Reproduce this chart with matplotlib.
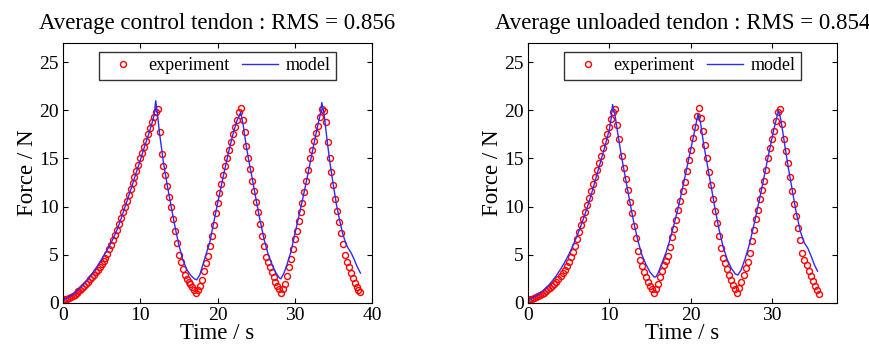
import numpy as np
import matplotlib.pyplot as plt

plt.rcParams['font.family'] = ['Liberation Serif', 'DejaVu Serif']
plt.rcParams['mathtext.fontset'] = 'stix'

# ---- donnees ----
titres = ['Average control tendon : RMS = 0.856',
          'Average unloaded tendon : RMS = 0.854']

pas_exp = 0.25  # echantillonnage des points experimentaux (s)

# experience, tendon controle (0 -> 38.5 s)
exp_ctrl = [
    0.30, 0.36, 0.43, 0.51, 0.60, 0.73, 0.87, 1.03, 1.20, 1.39,
    1.59, 1.79, 2.00, 2.22, 2.45, 2.67, 2.90, 3.17, 3.44, 3.72,
    4.00, 4.35, 4.70, 5.07, 5.55, 6.05, 6.55, 7.05, 7.60, 8.20,
    8.80, 9.40, 10.00, 10.60, 11.20, 11.85, 12.50, 13.10, 13.70, 14.35,
    15.00, 15.60, 16.20, 16.85, 17.50, 18.15, 18.80, 19.30, 19.80, 20.10,
    17.80, 15.50, 14.20, 13.30, 12.10, 11.00, 10.00, 8.70, 7.50, 6.20,
    5.00, 4.20, 3.50, 2.90, 2.50, 2.20, 1.95, 1.65, 1.30, 1.00,
    1.30, 1.80, 2.40, 3.30, 4.10, 4.90, 5.90, 7.00, 8.10, 9.30,
    10.40, 11.40, 12.30, 13.30, 14.20, 15.10, 15.90, 16.70, 17.50, 18.30,
    19.00, 19.80, 20.20,
    19.00, 17.70, 16.30, 15.00, 13.90, 12.70, 11.60, 10.50, 9.40, 8.20,
    7.00, 5.90, 4.80, 4.20, 3.70, 3.20, 2.70, 2.20, 1.80, 1.40, 1.00,
    1.40, 2.00, 2.80, 3.70, 4.60, 5.60, 6.60, 7.50, 8.50, 9.40,
    10.40, 11.50, 12.70, 13.80, 15.00, 15.90, 16.80, 17.60, 18.40, 19.30,
    20.10, 19.90,
    18.80, 16.70, 15.00, 13.60, 12.20, 10.80, 9.50, 8.40, 7.30, 6.10,
    5.00, 4.30, 3.70, 3.10, 2.60, 2.10, 1.70, 1.30, 1.10,
]

# modele, tendon controle
mod_ctrl_t = [0, 0.5, 1, 1.5, 2, 2.5, 3, 3.5, 4, 4.5, 5, 5.5, 6, 6.5, 7, 7.5,
              8, 8.5, 9, 9.5, 10, 10.5, 11, 11.5, 11.8, 12.0, 12.2, 12.5, 13,
              13.5, 14, 14.5, 15, 15.5, 16, 16.5, 17, 17.3, 17.7, 18, 18.5, 19,
              19.5, 20, 20.5, 21, 21.5, 22, 22.5, 22.8, 23.0, 23.3, 23.7, 24,
              24.5, 25, 25.5, 26, 26.5, 27, 27.5, 28, 28.2, 28.6, 29, 29.5, 30,
              30.5, 31, 31.5, 32, 32.5, 33, 33.3, 33.5, 33.8, 34.2, 34.6, 35,
              35.4, 35.8, 36.2, 36.6, 36.9, 37.3, 37.7, 38, 38.5]
mod_ctrl_f = [0.3, 0.5, 0.75, 1.05, 1.4, 1.8, 2.25, 2.75, 3.3, 3.9, 4.55, 5.2,
              5.9, 6.7, 7.6, 8.7, 9.9, 11.1, 12.3, 13.6, 14.8, 16.1, 17.3, 18.6,
              19.5, 21.0, 19.8, 17.6, 14.6, 12.2, 10.0, 7.9, 6.0, 4.5, 3.5, 2.9,
              2.5, 2.4, 2.9, 3.7, 5.0, 6.3, 8.3, 10.3, 12.2, 14.1, 15.9, 17.5,
              18.9, 19.4, 19.8, 18.6, 16.4, 15.0, 12.9, 10.7, 8.6, 6.7, 5.2, 4.1,
              3.2, 2.6, 2.5, 3.1, 4.0, 5.3, 7.1, 8.9, 10.7, 12.6, 14.6, 16.6,
              18.5, 19.6, 20.8, 19.6, 16.8, 14.3, 12.2, 10.2, 8.6, 7.2, 6.2, 5.7,
              5.2, 4.5, 3.9, 3.1]

# experience, tendon decharge (0 -> 35.75 s)
exp_unl = [
    0.30, 0.36, 0.43, 0.51, 0.60, 0.70, 0.81, 0.93, 1.06, 1.22,
    1.40, 1.58, 1.78, 1.98, 2.20, 2.48, 2.78, 3.08, 3.45, 3.85,
    4.30, 4.75, 5.25, 5.95, 6.65, 7.35, 8.05, 8.75, 9.45, 10.15,
    10.90, 11.65, 12.40, 13.10, 13.85, 14.55, 15.30, 16.05, 16.80, 17.50,
    18.30, 19.10, 19.80, 20.10,
    18.50, 17.00, 15.30, 14.00, 12.90, 11.70, 10.50, 9.30, 8.00, 6.70,
    5.40, 4.50, 3.80, 3.20, 2.70, 2.20, 1.80, 1.40, 1.00,
    1.40, 2.00, 2.70, 3.30, 3.90, 4.40, 4.90, 5.80, 6.80, 7.70,
    8.60, 9.60, 10.60, 11.60, 12.60, 13.70, 14.80, 15.90, 17.10, 18.30,
    19.40, 20.20,
    19.20, 17.90, 16.40, 15.00, 13.60, 12.20, 10.80, 9.50, 8.30, 7.00,
    5.70, 4.70, 4.10, 3.50, 2.90, 2.40, 1.90, 1.40, 1.00,
    1.60, 2.20, 2.90, 3.60, 4.30, 5.20, 6.40, 7.60, 8.70, 9.70,
    10.80, 11.70, 12.70, 13.80, 15.00, 16.10, 17.00, 17.90, 18.90, 19.80,
    20.10, 18.60, 17.00, 15.80, 14.50, 13.10, 11.60, 10.30, 9.00, 7.80,
    6.50, 5.20, 4.50, 3.90, 3.30, 2.80, 2.30, 1.80, 1.30, 0.95,
]

# modele, tendon decharge
mod_unl_t = [0, 0.5, 1, 1.5, 2, 2.5, 3, 3.5, 4, 4.5, 5, 5.5, 6, 6.5, 7, 7.5,
             8, 8.5, 9, 9.5, 10, 10.2, 10.4, 10.7, 11, 11.5, 12, 12.5, 13,
             13.5, 14, 14.5, 15, 15.5, 15.7, 16, 16.5, 17, 17.5, 18, 18.5, 19,
             19.5, 20, 20.5, 20.9, 21.2, 21.6, 22, 22.5, 23, 23.5, 24, 24.5,
             25, 25.5, 25.8, 26.2, 26.7, 27.2, 27.7, 28.2, 28.7, 29.2, 29.7,
             30.2, 30.6, 30.8, 31.1, 31.5, 32, 32.5, 33, 33.5, 34, 34.4, 34.8,
             35.2, 35.6]
mod_unl_f = [0.3, 0.5, 0.75, 1.05, 1.4, 1.8, 2.3, 2.85, 3.5, 4.2, 5.0, 5.9,
             6.9, 8.0, 9.2, 10.5, 11.9, 13.4, 14.9, 16.4, 18.0, 19.0, 20.6,
             19.5, 17.8, 15.2, 12.9, 10.6, 8.4, 6.5, 5.0, 4.0, 3.2, 2.7, 2.7,
             3.1, 4.2, 5.3, 6.7, 8.3, 10.0, 11.9, 13.9, 15.9, 17.9, 19.6, 18.8,
             16.5, 14.6, 12.2, 9.8, 7.6, 5.8, 4.5, 3.6, 3.0, 2.9, 3.4, 4.6,
             6.0, 7.8, 9.7, 11.7, 13.8, 15.9, 17.9, 19.3, 20.0, 19.0, 16.8,
             14.1, 11.7, 9.3, 7.4, 6.2, 5.7, 4.9, 4.0, 3.3]

xlims = [40, 38]
xticks = [[0, 10, 20, 30, 40], [0, 10, 20, 30]]

fig = plt.figure(figsize=(8.69, 3.49), dpi=100)
ax1 = fig.add_axes([0.0725, 0.132, 0.3556, 0.745])
ax2 = fig.add_axes([0.6076, 0.132, 0.3556, 0.745])

donnees = [(exp_ctrl, mod_ctrl_t, mod_ctrl_f), (exp_unl, mod_unl_t, mod_unl_f)]

for k, ax in enumerate([ax1, ax2]):
    f_exp, t_mod, f_mod = donnees[k]
    t_exp = np.arange(len(f_exp)) * pas_exp
    ax.plot(t_exp, f_exp, 'o', mfc='none', mec='red', ms=4.3, mew=1.0,
            label='experiment')
    ax.plot(t_mod, f_mod, '-', color='#2b2bff', lw=1.0, label='model')
    ax.set_xlim(0, xlims[k])
    ax.set_ylim(0, 27)
    ax.set_xticks(xticks[k])
    ax.set_yticks([0, 5, 10, 15, 20, 25])
    ax.tick_params(direction='in', top=True, right=True, length=3.5,
                   labelsize=14, pad=3)
    ax.set_xlabel('Time / s', fontsize=16.5, labelpad=-1)
    ax.set_ylabel('Force / N', fontsize=16.5, labelpad=1)
    ax.set_title(titres[k], fontsize=16.5, pad=10)
    leg = ax.legend(loc='upper center', ncol=2, fontsize=13, numpoints=1,
                    frameon=True, fancybox=False, borderaxespad=0.5,
                    handlelength=2.0, handletextpad=0.4, columnspacing=0.7,
                    borderpad=0.3)
    leg.get_frame().set_edgecolor('black')
    leg.get_frame().set_linewidth(1.0)

plt.savefig('out.png', dpi=100)
